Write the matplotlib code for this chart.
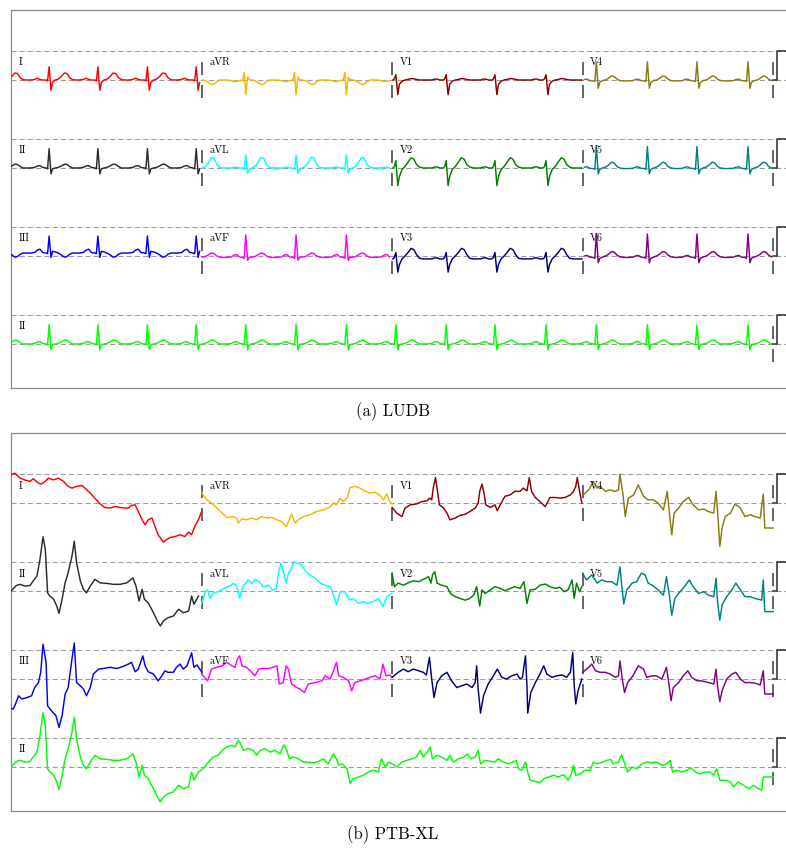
import numpy as np
import matplotlib.pyplot as plt

plt.rcParams["font.family"] = ["cmr10", "DejaVu Serif"]
plt.rcParams["axes.unicode_minus"] = False

# Layout: 2.5 s per lead column, rows 3 mV apart
COL_SECS = 2.5
ROW_GAP_MV = 3.0
X_MAX = 10.22
Y_MIN, Y_MAX = -10.5, 2.39
TRACE_LW = 1.05

LEAD_GRID = [["I", "aVR", "V1", "V4"],
             ["II", "aVL", "V2", "V5"],
             ["III", "aVF", "V3", "V6"]]
RHYTHM_LEAD = "II"

GRID_COLORS = [["red", "#f4b800", "darkred", "#8a7a12"],
               ["#2b2b2b", "cyan", "green", "teal"],
               ["blue", "magenta", "navy", "purple"]]
RHYTHM_COLOR = "lime"

# ---------------- LUDB: beat times (s) and per-lead beat shapes (mV) ----------------
LUDB_BEATS = [-0.15, 0.50, 1.14, 1.79, 2.43, 3.08, 3.74, 4.40, 5.05, 5.71,
              6.35, 7.02, 7.68, 8.35, 9.00, 9.67, 10.32]
BEAT_DT = [-0.25, -0.19, -0.155, -0.12, -0.085, -0.04, -0.02, 0.0, 0.025, 0.045,
           0.08, 0.12, 0.16, 0.20, 0.235, 0.27, 0.31, 0.36]

LUDB_I = [0.0, 0.02, 0.06, 0.02, 0.0, 0.0, -0.03, 0.45, -0.35, -0.08, 0.0, 0.03, 0.12, 0.24, 0.22, 0.08, 0.01, 0.0]
LUDB_II = [0.0, 0.02, 0.07, 0.08, 0.02, 0.0, -0.03, 0.66, -0.2, -0.03, 0.0, 0.02, 0.07, 0.13, 0.12, 0.05, 0.0, 0.0]
LUDB_III = [0.1, 0.12, 0.2, 0.23, 0.12, 0.1, 0.08, 0.68, -0.05, 0.16, 0.14, 0.1, 0.04, -0.04, -0.02, 0.06, 0.1, 0.1]
LUDB_AVR = [0.0, -0.02, -0.05, -0.05, -0.02, 0.0, 0.26, -0.5, 0.1, 0.02, 0.0, -0.02, -0.08, -0.15, -0.14, -0.06, 0.0, 0.0]
LUDB_AVL = [0.0, 0.0, 0.02, 0.03, 0.0, 0.0, -0.05, 0.44, -0.18, -0.05, 0.0, 0.05, 0.18, 0.36, 0.33, 0.12, 0.02, 0.0]
LUDB_AVF = [-0.05, -0.03, 0.03, 0.05, -0.03, -0.05, -0.08, 0.72, -0.15, -0.05, -0.04, -0.02, 0.04, 0.1, 0.08, 0.0, -0.04, -0.05]
LUDB_V1 = [0.0, 0.0, 0.03, 0.03, 0.0, 0.0, 0.04, 0.18, -0.5, -0.15, -0.04, 0.0, 0.02, 0.05, 0.04, 0.02, 0.0, 0.0]
LUDB_V2 = [0.0, 0.0, 0.03, 0.04, 0.0, 0.0, 0.05, 0.25, -0.6, -0.3, -0.05, 0.05, 0.2, 0.35, 0.3, 0.12, 0.03, 0.0]
LUDB_V3 = [-0.1, -0.1, -0.07, -0.06, -0.1, -0.1, -0.05, 0.12, -0.55, -0.3, -0.1, 0.0, 0.12, 0.26, 0.22, 0.05, -0.08, -0.1]
LUDB_V4 = [-0.03, -0.02, 0.02, 0.03, -0.02, -0.03, -0.05, 0.62, -0.28, -0.08, -0.02, 0.0, 0.06, 0.14, 0.12, 0.03, -0.02, -0.03]
LUDB_V5 = [-0.02, -0.01, 0.03, 0.04, -0.01, -0.02, -0.05, 0.73, -0.2, -0.05, 0.0, 0.03, 0.1, 0.2, 0.17, 0.05, 0.0, -0.02]
LUDB_V6 = [-0.05, -0.04, 0.0, 0.02, -0.04, -0.05, -0.08, 0.75, -0.23, -0.08, -0.04, 0.0, 0.06, 0.15, 0.13, 0.03, -0.03, -0.05]

LUDB_SHAPES = {"I": LUDB_I, "II": LUDB_II, "III": LUDB_III, "aVR": LUDB_AVR,
               "aVL": LUDB_AVL, "aVF": LUDB_AVF, "V1": LUDB_V1, "V2": LUDB_V2,
               "V3": LUDB_V3, "V4": LUDB_V4, "V5": LUDB_V5, "V6": LUDB_V6}

# ---------------- PTB-XL: (time s, mV) samples per lead ----------------
PTB_I = [(0.00, 0.97), (0.02, 0.99), (0.05, 1.02), (0.12, 0.85), (0.18, 0.79), (0.25, 0.74), (0.29, 0.83),
         (0.36, 0.68), (0.40, 0.65), (0.45, 0.74), (0.49, 0.85), (0.56, 0.79), (0.62, 0.85), (0.69, 0.74),
         (0.75, 0.57), (0.80, 0.51), (0.86, 0.57), (0.93, 0.60), (0.97, 0.51), (1.04, 0.34), (1.10, 0.17),
         (1.17, -0.03), (1.23, -0.15), (1.30, -0.17), (1.36, -0.12), (1.43, -0.15), (1.50, -0.17), (1.54, -0.17),
         (1.58, -0.08), (1.63, -0.06), (1.67, -0.29), (1.72, -0.57), (1.76, -0.74), (1.80, -0.57), (1.85, -0.51),
         (1.89, -0.80), (1.93, -1.08), (2.00, -1.33), (2.04, -1.25), (2.09, -1.17), (2.15, -1.14), (2.22, -1.08),
         (2.28, -1.14), (2.33, -0.99), (2.37, -1.08), (2.41, -0.80), (2.46, -0.57), (2.50, -0.29)]
PTB_AVR = [(2.50, 0.36), (2.57, 0.11), (2.63, 0.0), (2.70, -0.17), (2.77, -0.34), (2.83, -0.49), (2.90, -0.46),
           (2.96, -0.51), (2.98, -0.68), (3.03, -0.54), (3.09, -0.57), (3.16, -0.51), (3.22, -0.57), (3.29, -0.46),
           (3.36, -0.51), (3.42, -0.49), (3.49, -0.57), (3.55, -0.63), (3.61, -0.80), (3.65, -0.57), (3.68, -0.38),
           (3.73, -0.68), (3.77, -0.57), (3.84, -0.46), (3.92, -0.40), (4.01, -0.29), (4.10, -0.23), (4.19, -0.12),
           (4.23, 0.0), (4.27, -0.06), (4.32, 0.17), (4.36, 0.05), (4.41, 0.17), (4.45, 0.53), (4.51, 0.57),
           (4.58, 0.51), (4.65, 0.40), (4.71, 0.34), (4.78, 0.37), (4.84, 0.26), (4.89, 0.11), (4.93, 0.31),
           (4.97, 0.05), (5.00, -0.03)]
PTB_V1 = [(5.00, -0.15), (5.06, -0.34), (5.13, -0.46), (5.17, -0.17), (5.24, -0.06), (5.32, -0.03), (5.39, 0.05),
          (5.46, 0.08), (5.49, 0.17), (5.52, 0.11), (5.54, 0.51), (5.57, 0.87), (5.59, 0.51), (5.62, -0.06),
          (5.67, -0.15), (5.72, -0.34), (5.76, -0.57), (5.83, -0.51), (5.89, -0.42), (5.96, -0.38), (6.02, -0.29),
          (6.09, -0.17), (6.13, 0.0), (6.15, 0.40), (6.18, 0.65), (6.21, 0.28), (6.23, -0.06), (6.29, -0.15),
          (6.35, -0.06), (6.38, -0.26), (6.42, -0.06), (6.48, 0.23), (6.55, 0.28), (6.61, 0.40), (6.68, 0.40),
          (6.72, 0.51), (6.77, 0.42), (6.80, 0.87), (6.83, 0.40), (6.88, 0.19), (6.94, 0.05), (7.01, -0.12),
          (7.07, 0.19), (7.14, 0.19), (7.20, 0.17), (7.27, 0.19), (7.34, 0.28), (7.38, 0.40), (7.41, 0.57),
          (7.43, 0.87), (7.46, 0.40), (7.49, 0.0)]
PTB_V4 = [(7.51, 0.28), (7.58, 0.45), (7.64, 0.74), (7.69, 0.51), (7.73, 0.57), (7.80, 0.40), (7.86, 0.45),
          (7.93, 0.40), (7.97, 0.45), (7.99, 0.99), (8.03, 0.28), (8.06, -0.46), (8.10, 0.17), (8.17, 0.28),
          (8.23, 0.62), (8.30, 0.23), (8.36, 0.11), (8.43, 0.11), (8.49, 0.0), (8.56, -0.23), (8.61, 0.40),
          (8.65, -0.63), (8.67, -1.08), (8.70, -0.34), (8.76, -0.17), (8.82, 0.05), (8.89, 0.19), (8.95, -0.06),
          (9.02, -0.23), (9.09, -0.20), (9.15, -0.29), (9.22, -0.34), (9.25, 0.40), (9.28, -0.63), (9.30, -1.48),
          (9.33, -0.85), (9.37, -0.46), (9.44, -0.34), (9.50, -0.03), (9.57, -0.17), (9.63, -0.46), (9.70, -0.40),
          (9.76, -0.46), (9.83, -0.51), (9.87, 0.31), (9.89, -0.85), (10.00, -0.85)]
PTB_AVL = [(2.50, -0.45), (2.55, -0.02), (2.58, 0.04), (2.61, -0.25), (2.65, -0.08), (2.72, -0.02), (2.79, 0.09),
           (2.85, 0.15), (2.92, 0.26), (2.96, 0.20), (3.00, -0.25), (3.04, 0.15), (3.11, 0.38), (3.16, 0.26),
           (3.20, 0.40), (3.26, 0.32), (3.31, 0.15), (3.38, 0.20), (3.43, 0.04), (3.48, 0.06), (3.51, 0.61),
           (3.54, 0.95), (3.57, 0.72), (3.61, 0.27), (3.64, 0.61), (3.68, 0.78), (3.71, 1.00), (3.76, 0.95),
           (3.81, 0.89), (3.87, 0.66), (3.92, 0.55), (3.99, 0.44), (4.06, 0.27), (4.12, 0.20), (4.19, 0.15),
           (4.23, -0.13), (4.27, -0.47), (4.32, -0.02), (4.38, -0.02), (4.44, -0.31), (4.49, -0.25), (4.56, -0.42),
           (4.62, -0.36), (4.69, -0.42), (4.75, -0.36), (4.82, -0.25), (4.88, -0.53), (4.93, -0.19), (5.00, -0.08)]
PTB_V2 = [(5.00, 0.61), (5.03, 0.15), (5.08, 0.27), (5.15, 0.20), (5.21, 0.28), (5.28, 0.35), (5.35, 0.32),
          (5.41, 0.40), (5.48, 0.49), (5.51, 0.27), (5.53, 0.55), (5.56, 0.66), (5.59, 0.27), (5.65, 0.20),
          (5.72, 0.15), (5.77, -0.10), (5.83, -0.19), (5.89, -0.25), (5.96, -0.31), (6.02, -0.25), (6.07, -0.14),
          (6.11, 0.15), (6.15, -0.51), (6.18, 0.04), (6.22, -0.08), (6.29, 0.04), (6.35, 0.15), (6.42, 0.09),
          (6.48, 0.01), (6.55, 0.09), (6.61, 0.15), (6.68, 0.09), (6.73, 0.32), (6.77, -0.42), (6.81, 0.04),
          (6.88, 0.06), (6.94, 0.20), (7.01, 0.24), (7.07, 0.15), (7.14, 0.09), (7.20, 0.13), (7.26, -0.02),
          (7.31, 0.04), (7.36, 0.38), (7.39, -0.25), (7.42, 0.27), (7.46, -0.02), (7.49, 0.15)]
PTB_V5 = [(7.50, 0.61), (7.55, 0.38), (7.62, 0.55), (7.69, 0.27), (7.75, 0.38), (7.82, 0.32), (7.88, 0.32),
          (7.95, 0.20), (7.99, 0.83), (8.01, 0.27), (8.04, -0.44), (8.08, 0.04), (8.15, 0.27), (8.21, 0.32),
          (8.27, 0.61), (8.32, 0.55), (8.36, 0.27), (8.43, 0.17), (8.49, 0.04), (8.56, -0.14), (8.60, 0.49),
          (8.64, -0.19), (8.67, -0.82), (8.71, -0.25), (8.78, -0.02), (8.85, 0.20), (8.90, 0.38), (8.95, 0.15),
          (9.02, -0.08), (9.09, -0.02), (9.15, -0.14), (9.22, -0.19), (9.25, 0.43), (9.27, -0.36), (9.30, -0.99),
          (9.33, -0.47), (9.39, -0.19), (9.46, 0.04), (9.51, 0.27), (9.57, 0.04), (9.63, -0.19), (9.70, -0.19),
          (9.76, -0.25), (9.85, -0.31), (9.87, 0.38), (9.89, -0.70), (10.00, -0.70)]
PTB_III = [(0.00, -1.00), (0.03, -1.02), (0.05, -0.91), (0.10, -0.57), (0.14, -0.68), (0.21, -0.63), (0.27, -0.57),
           (0.31, -0.29), (0.36, -0.12), (0.39, 0.23), (0.42, 1.19), (0.46, 0.57), (0.48, -0.91), (0.53, -1.08),
           (0.59, -1.25), (0.63, -1.65), (0.67, -1.25), (0.71, -0.51), (0.75, -0.29), (0.80, 0.68), (0.83, 1.23),
           (0.86, -0.12), (0.91, -0.23), (0.95, -0.34), (0.99, -0.57), (1.04, -0.29), (1.08, 0.17), (1.15, 0.34),
           (1.21, 0.36), (1.30, 0.40), (1.39, 0.36), (1.47, 0.43), (1.54, 0.51), (1.58, 0.57), (1.63, 0.25),
           (1.67, 0.34), (1.73, 0.79), (1.76, 0.45), (1.80, 0.25), (1.87, 0.17), (1.93, -0.06), (1.98, 0.11),
           (2.02, 0.28), (2.06, 0.23), (2.13, 0.23), (2.17, 0.40), (2.22, 0.51), (2.26, 0.34), (2.31, 0.45),
           (2.34, 0.68), (2.37, 0.89), (2.40, 0.40), (2.44, 0.48), (2.50, 0.25)]
PTB_AVF = [(2.50, 0.17), (2.58, -0.06), (2.63, 0.34), (2.70, 0.40), (2.77, 0.45), (2.83, 0.57), (2.90, 0.45),
           (2.94, 0.40), (2.97, 0.68), (3.00, 0.79), (3.03, 0.45), (3.09, 0.40), (3.16, 0.23), (3.20, 0.11),
           (3.25, 0.34), (3.31, 0.36), (3.38, 0.36), (3.44, 0.40), (3.49, 0.45), (3.52, -0.17), (3.57, -0.12),
           (3.61, 0.45), (3.64, 0.34), (3.68, -0.17), (3.75, -0.29), (3.79, -0.34), (3.85, -0.46), (3.90, -0.17),
           (3.99, -0.12), (4.08, -0.06), (4.12, 0.11), (4.19, 0.0), (4.23, 0.28), (4.27, 0.57), (4.30, 0.11),
           (4.36, 0.06), (4.43, -0.06), (4.47, -0.40), (4.51, -0.12), (4.58, -0.06), (4.65, 0.0), (4.71, 0.06),
           (4.78, 0.11), (4.84, 0.0), (4.88, 0.51), (4.92, 0.11), (4.97, 0.14), (5.00, 0.06)]
PTB_V3 = [(5.00, 0.06), (5.08, 0.23), (5.15, 0.34), (5.21, 0.25), (5.28, 0.34), (5.35, 0.28), (5.41, 0.23),
          (5.45, 0.14), (5.49, 0.74), (5.52, 0.0), (5.55, -0.63), (5.59, -0.12), (5.65, 0.11), (5.72, 0.23),
          (5.78, -0.06), (5.85, -0.29), (5.91, -0.23), (5.98, -0.17), (6.05, -0.29), (6.09, -0.12), (6.11, 0.45),
          (6.13, -0.34), (6.16, -1.16), (6.20, -0.57), (6.26, -0.17), (6.33, 0.11), (6.38, 0.34), (6.44, 0.06),
          (6.50, 0.0), (6.57, 0.11), (6.64, 0.17), (6.68, 0.0), (6.71, 0.06), (6.75, 0.79), (6.77, -0.23),
          (6.78, -1.16), (6.82, -0.46), (6.88, -0.12), (6.94, 0.17), (6.99, 0.45), (7.03, 0.17), (7.10, 0.06),
          (7.16, 0.11), (7.23, 0.14), (7.29, 0.06), (7.34, 0.23), (7.37, 0.91), (7.39, -0.23), (7.41, -0.85),
          (7.44, -0.40), (7.49, 0.0)]
PTB_V6 = [(7.50, 0.23), (7.58, 0.40), (7.62, 0.51), (7.67, 0.28), (7.73, 0.23), (7.80, 0.23), (7.86, 0.17),
          (7.93, 0.06), (7.97, 0.11), (7.99, 0.62), (8.02, 0.0), (8.05, -0.46), (8.09, -0.12), (8.16, 0.11),
          (8.23, 0.45), (8.30, 0.34), (8.34, 0.06), (8.41, 0.11), (8.47, 0.11), (8.54, 0.0), (8.60, 0.40),
          (8.63, -0.12), (8.66, -0.74), (8.69, -0.29), (8.76, -0.12), (8.82, 0.11), (8.88, 0.28), (8.93, 0.06),
          (9.00, -0.06), (9.06, -0.06), (9.15, -0.12), (9.22, -0.17), (9.25, 0.34), (9.27, -0.23), (9.30, -0.77),
          (9.33, -0.40), (9.39, 0.0), (9.46, 0.17), (9.51, 0.23), (9.57, 0.0), (9.63, -0.12), (9.70, -0.12),
          (9.76, -0.14), (9.83, -0.20), (9.87, 0.28), (9.89, -0.51), (10.00, -0.51)]
PTB_II = [(0.00, 0.00), (0.07, 0.19), (0.12, 0.23), (0.18, 0.17), (0.25, 0.19), (0.29, 0.34), (0.34, 0.51),
          (0.38, 1.08), (0.42, 1.85), (0.45, 1.42), (0.48, -0.06), (0.51, -0.17), (0.56, -0.28), (0.60, -0.51),
          (0.63, -0.76), (0.67, -0.28), (0.71, 0.28), (0.75, 0.63), (0.80, 1.19), (0.83, 1.70), (0.86, 0.97),
          (0.91, 0.34), (0.95, 0.06), (0.99, -0.06), (1.04, 0.17), (1.10, 0.40), (1.17, 0.28), (1.26, 0.26),
          (1.34, 0.23), (1.43, 0.23), (1.52, 0.28), (1.60, 0.45), (1.64, 0.17), (1.68, -0.34), (1.72, 0.06),
          (1.75, -0.28), (1.80, -0.40), (1.87, -0.74), (1.92, -1.02), (1.96, -1.19), (2.00, -1.02), (2.06, -0.91),
          (2.13, -0.85), (2.20, -0.62), (2.26, -0.74), (2.33, -0.68), (2.37, -0.17), (2.40, -0.45), (2.46, -0.17),
          (2.52, -0.06), (2.59, 0.17), (2.65, 0.34), (2.72, 0.40), (2.77, 0.57), (2.83, 0.68), (2.90, 0.74),
          (2.94, 0.68), (2.98, 0.91), (3.01, 0.80), (3.05, 0.57), (3.11, 0.63), (3.18, 0.57), (3.22, 0.40),
          (3.27, 0.57), (3.33, 0.63), (3.40, 0.51), (3.46, 0.57), (3.53, 0.45), (3.58, 0.76), (3.62, 0.57),
          (3.65, 0.28), (3.70, 0.34), (3.77, 0.28), (3.84, 0.17), (3.90, 0.17), (3.97, 0.15), (4.03, 0.19),
          (4.10, 0.28), (4.16, 0.11), (4.23, 0.45), (4.27, 0.28), (4.30, 0.06), (4.34, 0.11), (4.41, -0.06),
          (4.45, -0.57), (4.49, -0.40), (4.56, -0.34), (4.62, -0.28), (4.69, -0.17), (4.75, -0.11), (4.82, -0.17),
          (4.86, 0.28), (4.91, 0.0), (4.95, 0.17), (5.02, 0.08), (5.06, 0.0), (5.13, 0.17), (5.19, 0.23),
          (5.26, 0.28), (5.32, 0.34), (5.37, 0.57), (5.41, 0.34), (5.46, 0.51), (5.50, 0.68), (5.53, 0.28),
          (5.59, 0.40), (5.65, 0.34), (5.72, 0.23), (5.76, 0.40), (5.80, 0.17), (5.87, 0.28), (5.94, 0.34),
          (5.99, 0.45), (6.03, 0.28), (6.09, 0.34), (6.13, 0.57), (6.16, 0.11), (6.22, 0.23), (6.29, 0.19),
          (6.35, 0.17), (6.39, 0.28), (6.46, 0.17), (6.53, 0.11), (6.59, 0.17), (6.63, 0.23), (6.66, -0.06),
          (6.70, -0.11), (6.75, 0.17), (6.78, -0.17), (6.81, -0.45), (6.88, -0.49), (6.94, -0.53), (6.99, -0.40),
          (7.05, -0.34), (7.12, -0.28), (7.18, -0.34), (7.25, -0.26), (7.31, -0.45), (7.36, -0.17), (7.38, 0.06),
          (7.41, -0.28), (7.47, -0.23), (7.53, -0.11), (7.60, -0.11), (7.64, 0.17), (7.69, 0.11), (7.75, 0.15),
          (7.82, 0.23), (7.87, 0.26), (7.90, 0.11), (7.97, 0.17), (8.01, 0.42), (8.06, 0.06), (8.09, -0.17),
          (8.15, 0.0), (8.21, -0.06), (8.28, 0.11), (8.34, 0.17), (8.41, 0.15), (8.47, 0.17), (8.54, 0.06),
          (8.60, 0.11), (8.65, 0.23), (8.68, -0.17), (8.74, -0.11), (8.80, -0.17), (8.87, -0.11), (8.92, -0.03),
          (8.98, -0.17), (9.04, -0.23), (9.11, -0.17), (9.17, -0.17), (9.22, -0.28), (9.26, -0.06), (9.30, -0.45),
          (9.37, -0.45), (9.44, -0.51), (9.48, -0.68), (9.54, -0.51), (9.61, -0.62), (9.68, -0.74), (9.74, -0.62),
          (9.81, -0.74), (9.85, -0.79), (9.87, -0.34), (9.94, -0.34), (10.00, -0.34)]

PTB_LEADS = {"I": PTB_I, "II": PTB_II, "III": PTB_III, "aVR": PTB_AVR, "aVL": PTB_AVL,
             "aVF": PTB_AVF, "V1": PTB_V1, "V2": PTB_V2, "V3": PTB_V3, "V4": PTB_V4,
             "V5": PTB_V5, "V6": PTB_V6}


def ludb_segment(lead, t0, t1):
    shape = LUDB_SHAPES[lead]
    ts, vs = [], []
    for beat in LUDB_BEATS:
        for dt, v in zip(BEAT_DT, shape):
            if t0 - 1e-9 <= beat + dt <= t1 + 1e-9:
                ts.append(beat + dt)
                vs.append(v)
    return np.array(ts), np.array(vs)


def ptb_segment(lead, t0, t1):
    pts = [(t, v) for t, v in PTB_LEADS[lead] if t0 - 1e-9 <= t <= t1 + 1e-9]
    return np.array([p[0] for p in pts]), np.array([p[1] for p in pts])


def draw_panel(ax, segment):
    for r in range(4):
        base = -ROW_GAP_MV * r
        for level in (base, base + 1.0):
            ax.axhline(level, color="#9c9c9c", lw=0.8, ls=(0, (4.6, 2.8)), zorder=1)

    # 3x4 lead grid
    for r, row in enumerate(LEAD_GRID):
        base = -ROW_GAP_MV * r
        for c, lead in enumerate(row):
            t0 = c * COL_SECS
            t, v = segment(lead, t0, t0 + COL_SECS)
            ax.plot(t, v + base, color=GRID_COLORS[r][c], lw=TRACE_LW, zorder=3)
            ax.text(t0 + 0.1, base + 0.59, lead, fontsize=7.5, va="center", ha="left", zorder=4)
            ax.plot([t0 + COL_SECS] * 2, [base - 0.6, base + 0.6], color="#3a3a3a",
                    lw=1.1, ls=(0, (8.5, 6.5)), zorder=2)

    # rhythm strip
    base = -ROW_GAP_MV * 3
    t, v = segment(RHYTHM_LEAD, 0.0, 4 * COL_SECS)
    ax.plot(t, v + base, color=RHYTHM_COLOR, lw=TRACE_LW, zorder=3)
    ax.text(0.1, base + 0.59, RHYTHM_LEAD, fontsize=7.5, va="center", ha="left", zorder=4)
    ax.plot([4 * COL_SECS] * 2, [base - 0.6, base + 0.6], color="#3a3a3a",
            lw=1.1, ls=(0, (8.5, 6.5)), zorder=2)

    # 1 mV calibration pulses at the right edge
    for r in range(4):
        base = -ROW_GAP_MV * r
        ax.plot([10.0, 10.05, 10.05, 10.5], [base, base, base + 1.0, base + 1.0],
                color="#2a2a2a", lw=1.1, zorder=3)

    ax.set_xlim(0, X_MAX)
    ax.set_ylim(Y_MIN, Y_MAX)
    ax.set_xticks([])
    ax.set_yticks([])
    for side in ("top", "left", "bottom"):
        ax.spines[side].set_color("#8c8c8c")
        ax.spines[side].set_linewidth(0.9)
    ax.spines["right"].set_visible(False)


fig = plt.figure(figsize=(7.86, 8.48), dpi=100)
ax_a = fig.add_axes([0.014, 0.5425, 0.991, 0.4458])
ax_b = fig.add_axes([0.014, 0.0436, 0.991, 0.4458])

draw_panel(ax_a, ludb_segment)
draw_panel(ax_b, ptb_segment)

fig.text(0.5, 0.5142, "(a) LUDB", ha="center", va="center", fontsize=12)
fig.text(0.5, 0.0153, "(b) PTB-XL", ha="center", va="center", fontsize=12)

fig.savefig("out.png", dpi=100)
